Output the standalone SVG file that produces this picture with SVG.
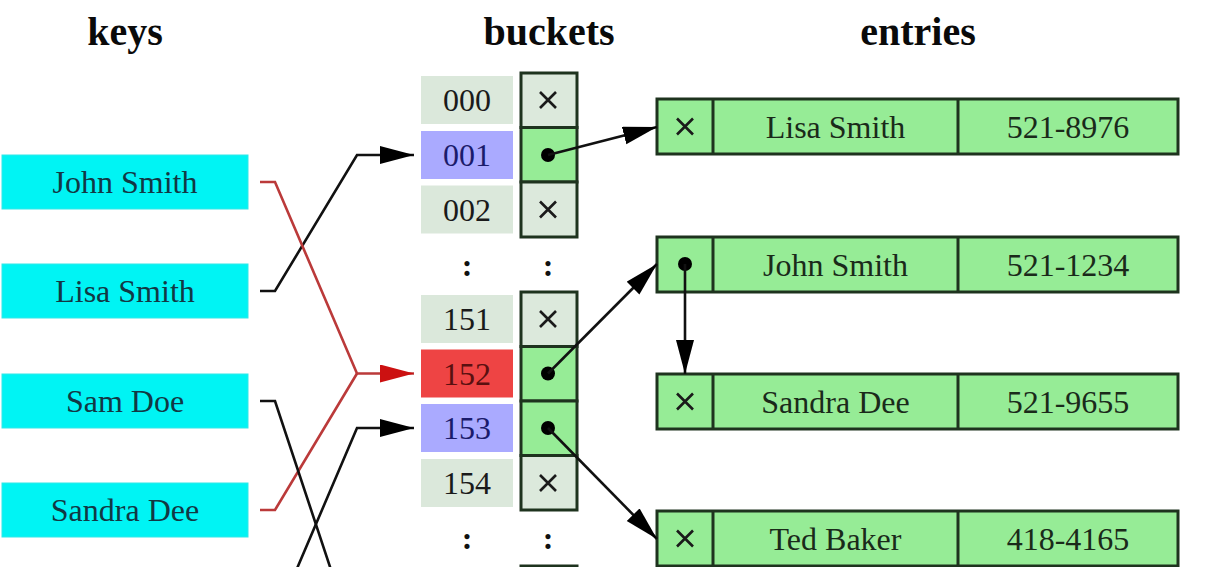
<svg xmlns="http://www.w3.org/2000/svg" width="1225" height="583" viewBox="0 0 1225 583">
<style>
.head{font-family:"Liberation Serif","Times New Roman",serif;font-size:40px;font-weight:bold;fill:#0a0a0a;text-anchor:middle}
.t{font-family:"Liberation Serif","Times New Roman",serif;font-size:32px;text-anchor:middle}
.key rect{fill:#00f4f4;stroke:#30e8e8;stroke-width:1}
.key text{fill:#123844}
.idx rect{fill:#dbe8db}
.idx text{fill:#1a1a1a}
.idx.blue rect{fill:#aaaaff}
.idx.blue text{fill:#1b1b6b}
.idx.red rect{fill:#ee4444}
.idx.red text{fill:#5a1010}
.cell{stroke:#1e331e;stroke-width:3}
.empty{fill:#dce9dc}
.full{fill:#96ec96}
.x{stroke:#1a1a1a;stroke-width:2.6;fill:none}
.dot{fill:#000}
.ent text{fill:#1a2a1a}
.colon{font-family:"Liberation Serif","Times New Roman",serif;font-size:32px;font-weight:bold;fill:#111;text-anchor:middle}
.conn path{fill:none;stroke-width:2.6}
.blk{stroke:#111}
.rd{stroke:#bb3a3a;stroke-width:2.2}
</style>
<defs>
<marker id="ab" markerUnits="userSpaceOnUse" markerWidth="36" markerHeight="20" refX="34" refY="9" orient="auto"><path d="M0,0 L34,9 L0,18 z" fill="#000"/></marker>
<marker id="ar" markerUnits="userSpaceOnUse" markerWidth="36" markerHeight="20" refX="34" refY="9" orient="auto"><path d="M0,0 L34,9 L0,18 z" fill="#cc1111"/></marker>
<clipPath id="clip"><rect x="0" y="0" width="1225" height="567"/></clipPath>
</defs>
<rect width="1225" height="583" fill="#fff"/>
<g clip-path="url(#clip)">
<g id="headings">
<text class="head" x="125" y="45">keys</text>
<text class="head" x="549" y="45">buckets</text>
<text class="head" x="918" y="45">entries</text>
</g>
<g id="key-john" class="key"><rect x="2" y="155" width="246" height="54"/><text class="t" x="125" y="193">John Smith</text></g>
<g id="key-lisa" class="key"><rect x="2" y="264" width="246" height="54"/><text class="t" x="125" y="302">Lisa Smith</text></g>
<g id="key-sam" class="key"><rect x="2" y="374" width="246" height="54"/><text class="t" x="125" y="412">Sam Doe</text></g>
<g id="key-sandra" class="key"><rect x="2" y="483" width="246" height="54"/><text class="t" x="125" y="521">Sandra Dee</text></g>

<g id="bucket-000"><g class="idx"><rect x="421" y="76" width="92" height="48"/><text class="t" x="467" y="111">000</text></g>
<rect class="cell empty" x="521" y="73" width="56" height="54.5"/><path class="x" d="M540,92 L556,108 M556,92 L540,108"/></g>
<g id="bucket-001"><g class="idx blue"><rect x="421" y="131" width="92" height="48"/><text class="t" x="467" y="166">001</text></g>
<rect class="cell full" x="521" y="127.5" width="56" height="54.5"/><circle class="dot" cx="548" cy="155" r="7"/></g>
<g id="bucket-002"><g class="idx"><rect x="421" y="185.5" width="92" height="48"/><text class="t" x="467" y="220.5">002</text></g>
<rect class="cell empty" x="521" y="182" width="56" height="55"/><path class="x" d="M540,201.5 L556,217.5 M556,201.5 L540,217.5"/></g>
<g id="gap-1"><text class="colon" x="467" y="276">:</text><text class="colon" x="548" y="276">:</text></g>
<g id="bucket-151"><g class="idx"><rect x="421" y="295" width="92" height="48"/><text class="t" x="467" y="330">151</text></g>
<rect class="cell empty" x="521" y="292" width="56" height="54.5"/><path class="x" d="M540,311 L556,327 M556,311 L540,327"/></g>
<g id="bucket-152"><g class="idx red"><rect x="421" y="349.5" width="92" height="48"/><text class="t" x="467" y="384.5">152</text></g>
<rect class="cell full" x="521" y="346.5" width="56" height="54.5"/><circle class="dot" cx="548" cy="373.5" r="7"/></g>
<g id="bucket-153"><g class="idx blue"><rect x="421" y="404" width="92" height="48"/><text class="t" x="467" y="439">153</text></g>
<rect class="cell full" x="521" y="401" width="56" height="54.5"/><circle class="dot" cx="548" cy="428" r="7"/></g>
<g id="bucket-154"><g class="idx"><rect x="421" y="459" width="92" height="48"/><text class="t" x="467" y="494">154</text></g>
<rect class="cell empty" x="521" y="455.5" width="56" height="54.5"/><path class="x" d="M540,475 L556,491 M556,475 L540,491"/></g>
<g id="gap-2"><text class="colon" x="467" y="549">:</text><text class="colon" x="548" y="549">:</text></g>
<g id="bucket-254"><rect class="cell empty" x="521" y="566" width="56" height="54.5"/></g>

<g id="entry-lisa" class="ent"><rect class="cell full" x="657" y="99" width="521" height="55"/><path class="cell" d="M713,99 V154 M958,99 V154"/><path class="x" d="M677,118.5 L693,134.5 M693,118.5 L677,134.5"/><text class="t" x="835.5" y="138">Lisa Smith</text><text class="t" x="1068" y="138">521-8976</text></g>
<g id="entry-john" class="ent"><rect class="cell full" x="657" y="237" width="521" height="55"/><path class="cell" d="M713,237 V292 M958,237 V292"/><circle class="dot" cx="685" cy="264" r="7"/><text class="t" x="835.5" y="276">John Smith</text><text class="t" x="1068" y="276">521-1234</text></g>
<g id="entry-sandra" class="ent"><rect class="cell full" x="657" y="374" width="521" height="55"/><path class="cell" d="M713,374 V429 M958,374 V429"/><path class="x" d="M677,393.5 L693,409.5 M693,393.5 L677,409.5"/><text class="t" x="835.5" y="413">Sandra Dee</text><text class="t" x="1068" y="413">521-9655</text></g>
<g id="entry-ted" class="ent"><rect class="cell full" x="657" y="511" width="521" height="55"/><path class="cell" d="M713,511 V566 M958,511 V566"/><path class="x" d="M677,530.5 L693,546.5 M693,530.5 L677,546.5"/><text class="t" x="835.5" y="550">Ted Baker</text><text class="t" x="1068" y="550">418-4165</text></g>

<g id="connectors" class="conn">
<path class="blk" d="M260,291 H275 L357,155 H414" marker-end="url(#ab)"/>
<path class="rd" d="M260,510 H275 L357,373.5"/>
<path class="rd" d="M260,182 H275 L357,373.5 H414" marker-end="url(#ar)"/>
<path class="blk" d="M260,401 H275 L340,597"/>
<path class="blk" d="M260,620 H275 L357,428 H414" marker-end="url(#ab)"/>
<path class="blk" d="M548,155 L657,127" marker-end="url(#ab)"/>
<path class="blk" d="M548,373.5 L657,264" marker-end="url(#ab)"/>
<path class="blk" d="M685,264 V374" marker-end="url(#ab)"/>
<path class="blk" d="M548,428 L657,539" marker-end="url(#ab)"/>
</g>
</g>
</svg>
